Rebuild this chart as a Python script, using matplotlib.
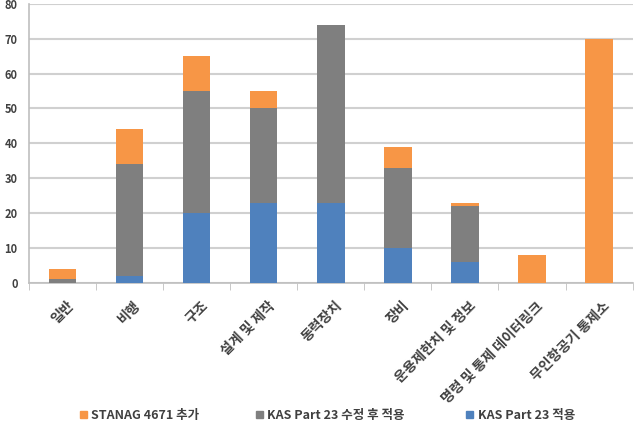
import matplotlib.pyplot as plt
from matplotlib.patches import Patch
from matplotlib.transforms import ScaledTranslation
import numpy as np

plt.rcParams['font.family'] = ['Noto Sans CJK KR', 'DejaVu Sans']

categories = ['일반', '비행', '구조', '설계 및 제작', '동력장치', '장비',
              '운용제한치 및 정보', '명령 및 통제 데이터링크', '무인항공기 통제소']
kas_applied = [0, 2, 20, 23, 23, 10, 6, 0, 0]
kas_modified = [1, 32, 35, 27, 51, 23, 16, 0, 0]
stanag_added = [3, 10, 10, 5, 0, 6, 1, 8, 70]

c_blue = '#4F81BD'
c_gray = '#7F7F7F'
c_orange = '#F79646'

fig = plt.figure(figsize=(6.41, 4.26), dpi=100)
ax = fig.add_axes([0.045, 0.336, 0.942, 0.655])

x = np.arange(len(categories))
w = 0.41
b1 = np.array(kas_applied)
b2 = b1 + np.array(kas_modified)
ax.bar(x, kas_applied, w, color=c_blue, zorder=3)
ax.bar(x, kas_modified, w, bottom=b1, color=c_gray, zorder=3)
ax.bar(x, stanag_added, w, bottom=b2, color=c_orange, zorder=3)

ax.set_xlim(-0.5, len(categories) - 0.5)
ax.set_ylim(0, 80)
ax.set_yticks(range(0, 81, 10))
ax.yaxis.grid(True, color='#D0D0D0', linewidth=1.5, zorder=0)
for s in ['top', 'right']:
    ax.spines[s].set_visible(False)
ax.spines['left'].set_color('#BFBFBF')
ax.spines['bottom'].set_color('#BFBFBF')
ax.spines['left'].set_linewidth(1.2)
ax.spines['bottom'].set_linewidth(1.2)

ax.set_xticks(x)
ax.set_xticklabels(categories, rotation=45, ha='right', va='center',
                   rotation_mode='anchor', fontsize=10, fontweight='bold',
                   color='#404040')
ax.tick_params(axis='x', length=0, pad=0)
shift = ScaledTranslation(9 / 100, -21 / 100, fig.dpi_scale_trans)
for t in ax.get_xticklabels():
    t.set_transform(t.get_transform() + shift)
ax.set_xticks(np.arange(-0.5, len(categories), 1), minor=True)
ax.tick_params(axis='x', which='minor', length=5, color='#BFBFBF')
ax.tick_params(axis='y', length=0, labelsize=8, labelcolor='#404040', pad=8)
for t in ax.get_yticklabels():
    t.set_fontweight('bold')

legend_colors = [c_orange, c_gray, c_blue]
legend_labels = ['STANAG 4671 추가', 'KAS Part 23 수정 후 적용', 'KAS Part 23 적용']
legend_x = [0.115, 0.39, 0.718]
for col, lab, lx in zip(legend_colors, legend_labels, legend_x):
    fig.legend([Patch(color=col)], [lab], loc='center left',
               bbox_to_anchor=(lx, 0.025), frameon=False, borderpad=0,
               handlelength=0.55, handleheight=0.55, handletextpad=0.35,
               prop={'size': 9, 'weight': 'bold'}, labelcolor='#404040')

fig.savefig('out.png', dpi=100)
